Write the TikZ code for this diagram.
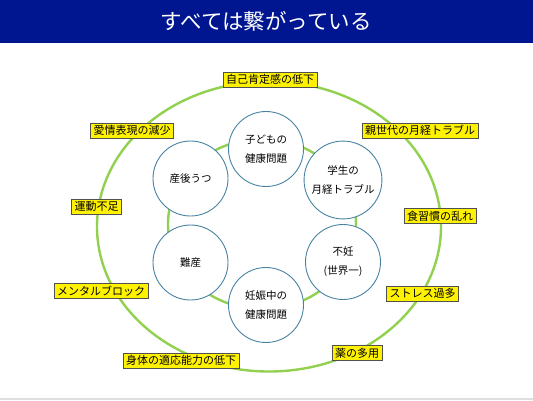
\documentclass[tikz,border=0pt]{standalone}
\usepackage{fontspec}
\setmainfont{Noto Sans CJK JP}
\usepackage{tikz}
\usetikzlibrary{positioning}
\definecolor{barblue}{RGB}{0,22,145}
\definecolor{ringgreen}{RGB}{146,208,80}
\definecolor{circedge}{RGB}{72,132,162}
\definecolor{tagedge}{RGB}{80,80,80}

\begin{document}
\begin{tikzpicture}[
  x=1pt, y=-1pt,
  topic/.style={circle, draw=circedge, line width=0.9pt, fill=white, minimum size=75pt,
    align=center, font=\fontsize{10.5}{19}\selectfont},
  tag/.style={rectangle, draw=tagedge, line width=0.8pt, fill=yellow, inner xsep=3pt,
    minimum height=15pt, inner ysep=0pt, font=\fontsize{11}{13}\selectfont},
  ring/.style={draw=ringgreen, line width=2.4pt}
]
  \useasboundingbox (0,0) rectangle (533,400);

  % Title
  \fill[barblue] (0,0) rectangle (533,43);
  \node[text=white, font=\fontsize{21.5}{24}\selectfont] (title) at (266,21) {すべては繋がっている};
  \fill[gray!25] (0,397.5) rectangle (533,400);

  % Rings
  \draw[ring] (269,226.5) ellipse [x radius=172, y radius=145];
  \draw[ring] (262,224) ellipse [x radius=94, y radius=85];

  % Inner topics
  \node[topic] (child) at (266,149) {子どもの\\健康問題};
  \node[topic] (student) at (343,180) {学生の\\月経トラブル};
  \node[topic] (infert) at (343,262) {不妊\\(世界一)};
  \node[topic] (pregnant) at (266,305) {妊娠中の\\健康問題};
  \node[topic] (difficult) at (190.5,262.5) {難産};
  \node[topic] (postpartum) at (190.5,178.5) {産後うつ};

  % Outer tags
  \node[tag] (esteem) at (270,79.5) {自己肯定感の低下};
  \node[tag] (parents) at (420,130.5) {親世代の月経トラブル};
  \node[tag] (diet) at (440,216) {食習慣の乱れ};
  \node[tag] (stress) at (422.5,293.5) {ストレス過多};
  \node[tag] (drugs) at (357,353) {薬の多用};
  \node[tag] (adapt) at (181,360.5) {身体の適応能力の低下};
  \node[tag] (mental) at (101,291) {メンタルブロック};
  \node[tag] (exercise) at (96.5,206.5) {運動不足};
  \node[tag] (affection) at (132,130.5) {愛情表現の減少};

\end{tikzpicture}
\end{document}
